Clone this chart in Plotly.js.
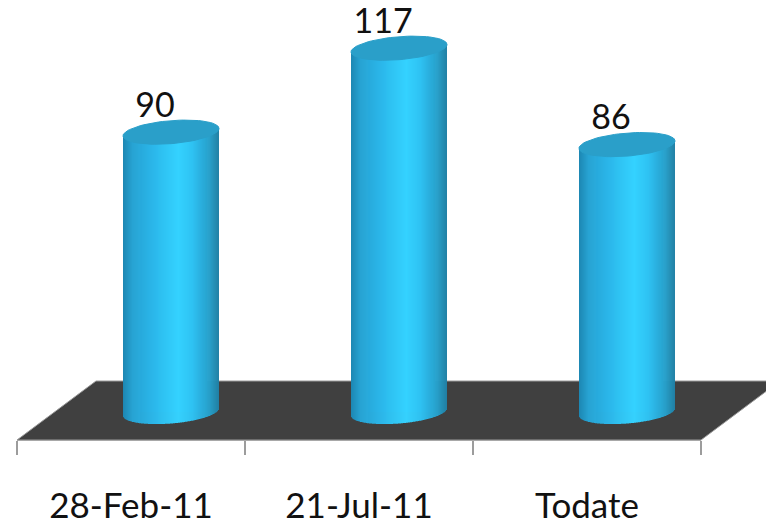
<!DOCTYPE html>
<html>
<head>
<meta charset="utf-8">
<script src="https://cdn.plot.ly/plotly-3.0.1.min.js"></script>
<style>html,body{margin:0;padding:0;background:#fff}</style>
</head>
<body>
<div id="chart" style="width:766px;height:526px"></div>
<script>
// Chart data
const categories = ['28-Feb-11', '21-Jul-11', 'Todate'];
const values = [90, 117, 86];

// Cylinder shading, from the left edge (-1) to the right edge (+1)
const shadeStops = [-1, -0.8, -0.35, 0.15, 0.45, 0.8, 1];
const shadeColours = ['#1c86b2', '#27a3d3', '#2dbaeb', '#36d3ff', '#30c3f2', '#289fca', '#217fa4'];

// Pseudo-3D proportions, in axis units
const depthShift = 0.1754;   // columns sit back from the front edge of the floor
const halfWidth = 0.2105;
const rimHeight = 3.7;       // vertical half-axis of the elliptical rims
const rimTilt = 1.2;         // right side of a rim rises, left side drops
const stripCount = 96;
const labelLift = 7.6;
const labelShift = -0.07;

function hex(c) { return [1, 3, 5].map(i => parseInt(c.slice(i, i + 2), 16)); }
function shade(t) {
  let k = 0;
  while (k < shadeStops.length - 2 && t > shadeStops[k + 1]) k++;
  const f = (t - shadeStops[k]) / (shadeStops[k + 1] - shadeStops[k]);
  const a = hex(shadeColours[k]), b = hex(shadeColours[k + 1]);
  return 'rgb(' + a.map((v, i) => Math.round(v + (b[i] - v) * f)).join(',') + ')';
}

const traces = [];

// The columns themselves, on the category axis
traces.push({
  type: 'bar', x: categories, y: values, xaxis: 'x', yaxis: 'y',
  width: halfWidth * 1.5, offset: depthShift - halfWidth * 0.75,
  marker: { color: '#2dbaeb' }, hoverinfo: 'x+y'
});

// Curved body: each column is overlaid with thin vertical strips of shaded colour
values.forEach((v, i) => {
  const xs = [], tops = [], bases = [], colours = [];
  for (let k = 0; k < stripCount; k++) {
    const t = (k + 0.5) / stripCount * 2 - 1;
    const base = rimTilt * t - rimHeight * Math.sqrt(1 - t * t);
    xs.push(i + depthShift + t * halfWidth);
    bases.push(base);
    tops.push(v + rimTilt * t - base);
    colours.push(shade(t));
  }
  traces.push({
    type: 'bar', x: xs, y: tops, base: bases, xaxis: 'x2', yaxis: 'y',
    width: 2 * halfWidth / stripCount, marker: { color: colours, line: { width: 0 } },
    hoverinfo: 'skip'
  });
});

// Elliptical lids
values.forEach((v, i) => {
  const xs = [], ys = [];
  for (let a = 0; a <= 72; a++) {
    const th = a / 72 * 2 * Math.PI;
    xs.push(i + depthShift + halfWidth * Math.cos(th));
    ys.push(v + rimTilt * Math.cos(th) + rimHeight * Math.sin(th));
  }
  traces.push({
    type: 'scatter', mode: 'lines', x: xs, y: ys, xaxis: 'x2', yaxis: 'y',
    fill: 'toself', fillcolor: '#2a9fc9', line: { color: '#2a9fc9', width: 1 },
    hoverinfo: 'skip'
  });
});

// Value labels
traces.push({
  type: 'scatter', mode: 'text', xaxis: 'x2', yaxis: 'y', cliponaxis: false,
  x: values.map((v, i) => i + depthShift + labelShift),
  y: values.map(v => v + labelLift),
  text: values.map(String), textposition: 'middle center',
  textfont: { family: 'Lato', size: 34, color: '#111' }, hoverinfo: 'skip'
});

// Floor of the chart, running off the right-hand side of the page
const px = x => x / 766, py = y => 1 - y / 526;
const floorPath = 'M' + px(17) + ',' + py(440) + ' L' + px(701) + ',' + py(440) +
  ' L' + px(780) + ',' + py(381) + ' L' + px(96) + ',' + py(381) + ' Z';

const layout = {
  width: 766, height: 526, showlegend: false, barmode: 'overlay',
  margin: { l: 0, r: 0, t: 0, b: 0, pad: 0 },
  paper_bgcolor: '#fff', plot_bgcolor: 'rgba(0,0,0,0)',
  xaxis: {
    type: 'category', categoryorder: 'array', categoryarray: categories,
    domain: [17 / 766, 701 / 766], range: [-0.5, 2.5], tickson: 'boundaries',
    ticks: 'outside', ticklen: 14, tickwidth: 2, tickcolor: '#9c9c9c',
    showline: true, linecolor: '#a8a8a8', linewidth: 1, showgrid: false,
    tickfont: { family: 'Lato', size: 35, color: '#111' }, ticklabelstandoff: 35
  },
  xaxis2: {
    type: 'linear', overlaying: 'x', anchor: 'y', domain: [17 / 766, 701 / 766],
    range: [-0.5, 2.5], visible: false, fixedrange: true
  },
  yaxis: {
    domain: [86 / 526, 1], range: [-9, 132.5], visible: false, fixedrange: true
  },
  shapes: [{
    type: 'path', xref: 'paper', yref: 'paper', layer: 'below',
    path: floorPath, fillcolor: '#404040', line: { color: '#9a9a9a', width: 1 }
  }]
};

Plotly.newPlot('chart', traces, layout, { displayModeBar: false, staticPlot: true });
</script>
</body>
</html>
